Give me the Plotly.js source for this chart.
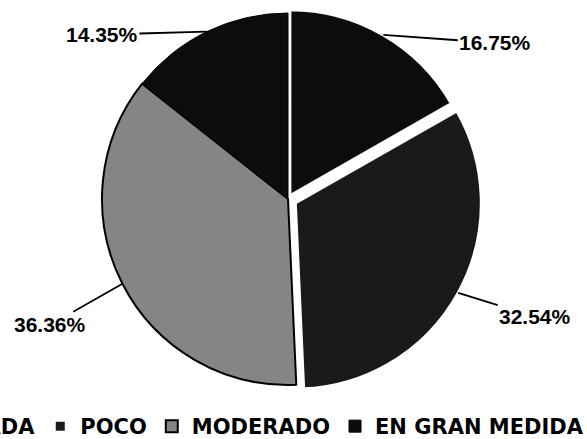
<!DOCTYPE html>
<html>
<head>
<meta charset="utf-8">
<script src="https://cdn.plot.ly/plotly-3.0.1.min.js"></script>
<style>
  html, body { margin: 0; padding: 0; width: 587px; height: 439px; overflow: hidden; background: #fff; }
  #chart { position: absolute; left: -100px; top: 0; }
</style>
</head>
<body>
<div id="chart"></div>
<script>
// ---- data ----
const labels = ['NADA', 'POCO', 'MODERADO', 'EN GRAN MEDIDA'];
const values = [16.75, 32.54, 36.36, 14.35];
const pulls = [0.02, 0.045, 0, 0];

// ---- style ----
const sliceColors = ['#0c0c0c', '#1a1a1a', '#858585', '#0c0c0c'];
const lineColors = ['#ffffff', '#ffffff', '#000000', '#000000'];
const lineWidths = [3, 3, 2, 1];
// label offsets (pixels) from slice edge to label centre
const labelOffsets = [[112, 8], [77, 24], [-72, 41], [-105, 3]];

const W = 747, H = 439;
const cxPx = 388, cyPx = 199, rPx = 186;
const maxPull = Math.max.apply(null, pulls);
const half = rPx * (1 + maxPull);
const domX = [(cxPx - half) / W, (cxPx + half) / W];
const domY = [(H - cyPx - half) / H, (H - cyPx + half) / H];

// label annotations from slice mid-angles
const total = values.reduce((a, b) => a + b, 0);
let cum = 0;
const annotations = values.map((v, i) => {
  const mid = (cum + v / 2) / total * 2 * Math.PI;
  cum += v;
  const rr = rPx * (1 + pulls[i]);
  const px = cxPx + rr * Math.sin(mid);
  const py = cyPx - rr * Math.cos(mid);
  return {
    xref: 'paper', yref: 'paper',
    x: px / W, y: 1 - py / H,
    text: v.toFixed(2) + '%',
    showarrow: true, arrowhead: 0, arrowwidth: 1.8, arrowcolor: '#000',
    standoff: 0, startstandoff: 0,
    ax: labelOffsets[i][0], ay: labelOffsets[i][1],
    font: { family: 'Liberation Sans, Arial, sans-serif', size: 21, color: '#000', weight: 'bold' }
  };
});

const trace = {
  type: 'pie',
  labels: labels,
  values: values,
  sort: false,
  direction: 'clockwise',
  rotation: 0,
  pull: pulls,
  textinfo: 'none',
  hoverinfo: 'none',
  domain: { x: domX, y: domY },
  marker: {
    colors: sliceColors,
    line: { color: lineColors, width: lineWidths }
  }
};

const layout = {
  width: W, height: H,
  margin: { l: 0, r: 0, t: 0, b: 0, autoexpand: false },
  paper_bgcolor: '#ffffff',
  plot_bgcolor: '#ffffff',
  showlegend: true,
  legend: {
    orientation: 'h',
    x: 27 / W, xanchor: 'left',
    y: 1 - 406 / H, yanchor: 'top',
    font: { family: 'DejaVu Sans, sans-serif', size: 21, color: '#000', weight: 'bold' },
    bgcolor: 'rgba(0,0,0,0)'
  },
  annotations: annotations
};

Plotly.newPlot('chart', [trace], layout, { staticPlot: true, displayModeBar: false });
</script>
</body>
</html>
